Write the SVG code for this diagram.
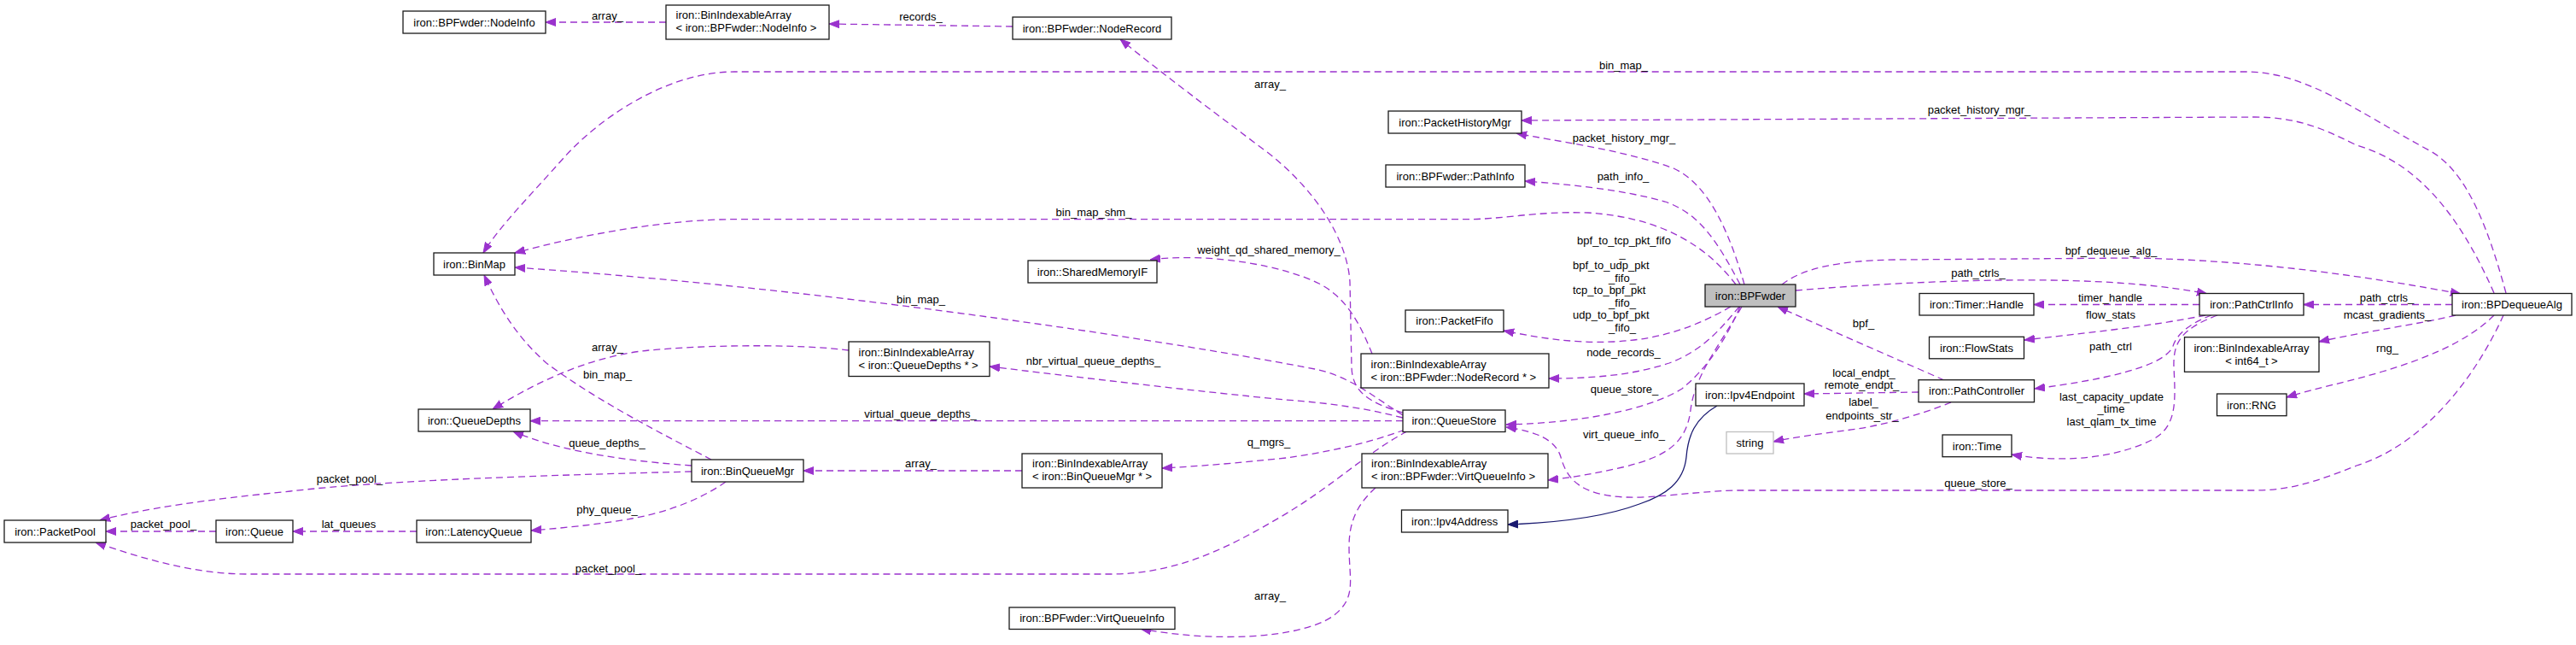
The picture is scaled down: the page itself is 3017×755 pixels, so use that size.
<svg xmlns="http://www.w3.org/2000/svg" width="3017" height="755" viewBox="0 0 3017 755">
<style>
.n rect{fill:#fff;stroke:#1a1a1a;stroke-width:1.3}
.n text,.lb text{font-family:"Liberation Sans",Arial,Helvetica,sans-serif;font-size:13px;fill:#000}
.n text{text-anchor:middle}
.n text.l{text-anchor:start}
.e path{fill:none;stroke:#9a32cd;stroke-width:1.3;stroke-dasharray:8,5}
.e path.b{stroke:#191970;stroke-dasharray:none}
.lb text{text-anchor:middle}
.lb text.s{text-anchor:start}
</style>
<defs>
<marker id="ap" viewBox="0 0 12 10" refX="12" refY="5" markerWidth="12" markerHeight="10" markerUnits="userSpaceOnUse" orient="auto"><path d="M0,0.5 L12,5 L0,9.5z" fill="#9a32cd" stroke="#9a32cd" stroke-width="1"/></marker>
<marker id="ab" viewBox="0 0 12 10" refX="12" refY="5" markerWidth="12" markerHeight="10" markerUnits="userSpaceOnUse" orient="auto"><path d="M0,0.5 L12,5 L0,9.5z" fill="#191970" stroke="#191970" stroke-width="1"/></marker>
</defs>
<rect width="3017" height="755" fill="#fff"/>
<g id="connectors" class="e">
<path marker-end="url(#ap)" d="M780,26 L639,26"/>
<path marker-end="url(#ap)" d="M1186,31 L971,28"/>
<path marker-end="url(#ap)" d="M1643,483 C1605,472 1584,460 1583,430 L1581,330 C1578,280 1540,220 1480,175 C1420,130 1360,85 1312,46"/>
<path marker-end="url(#ap)" d="M1607,414 C1595,385 1580,350 1545,332 C1505,312 1420,295 1347,304"/>
<path marker-end="url(#ap)" d="M2935,343 C2915,270 2890,200 2845,176 C2760,130 2700,84 2630,84 L860,84 C780,84 700,140 660,185 C620,230 585,265 566,296"/>
<path marker-end="url(#ap)" d="M2921,343 C2880,250 2830,190 2760,170 C2720,150 2690,137 2640,137 L1782,141"/>
<path marker-end="url(#ap)" d="M2043,333 C2025,270 2000,215 1960,197 C1900,175 1820,165 1776,156"/>
<path marker-end="url(#ap)" d="M2038,333 C2010,280 1990,250 1950,236 C1900,222 1840,216 1786,212"/>
<path marker-end="url(#ap)" d="M2033,333 C2000,290 1950,255 1860,249 C1800,247 1760,256.7 1718,256.7 L860,256.7 C780,256.7 680,275 603,296"/>
<path marker-end="url(#ap)" d="M2087,333 C2110,315 2150,305 2220,304 L2500,302 C2650,305 2780,325 2882,344"/>
<path marker-end="url(#ap)" d="M2103,340 C2200,332 2300,327 2400,328 C2480,329 2540,335 2585,344"/>
<path marker-end="url(#ap)" d="M2576,356.5 L2382,356.5"/>
<path marker-end="url(#ap)" d="M2872,356.5 L2698,356.5"/>
<path marker-end="url(#ap)" d="M2583,369 C2520,382 2440,390 2371,398"/>
<path marker-end="url(#ap)" d="M2590,369 C2560,380 2548,395 2545,405 C2535,430 2460,445 2383,455"/>
<path marker-end="url(#ap)" d="M2597,369 C2555,385 2545,400 2546,430 C2548,470 2550,500 2520,515 C2480,535 2420,543 2356,532"/>
<path marker-end="url(#ap)" d="M2876,369 C2830,380 2770,388 2716,400"/>
<path marker-end="url(#ap)" d="M2921,369 C2890,400 2840,420 2790,435 C2750,447 2710,455 2678,465"/>
<path marker-end="url(#ap)" d="M2932,369 C2900,440 2840,520 2760,545 C2710,565 2680,574 2640,574 L2030,574 C1980,576 1940,583 1905,582 C1850,580 1835,560 1828,535 C1822,515 1800,505 1764,500"/>
<path marker-end="url(#ap)" d="M2027,359 C1990,380 1950,397 1890,400 C1840,402 1800,395 1761,387"/>
<path marker-end="url(#ap)" d="M2037,359 C2015,385 1995,410 1955,425 C1910,440 1860,443 1814,443"/>
<path marker-end="url(#ap)" d="M2038,359 C2020,400 2000,430 1970,455 C1930,480 1850,495 1764,497"/>
<path marker-end="url(#ap)" d="M2040,359 C2010,410 1985,440 1980,480 C1975,520 1950,535 1900,547 C1870,554 1840,559 1813,562"/>
<path marker-end="url(#ap)" d="M2277,445 L2082,359"/>
<path marker-end="url(#ap)" d="M2247,459 L2113,461"/>
<path marker-end="url(#ap)" d="M2285,471 C2250,485 2200,500 2160,504 C2130,508 2100,512 2077,517"/>
<path class="b" marker-end="url(#ab)" d="M2011,475 C1985,490 1977,510 1975,535 C1972,565 1950,580 1920,590 C1880,605 1820,612 1766,614"/>
<path marker-end="url(#ap)" d="M1643,486 C1610,465 1580,440 1540,432 C1400,405 1000,340 603,313"/>
<path marker-end="url(#ap)" d="M1643,489 C1600,478 1560,472 1506,468 C1400,458 1250,440 1159,429"/>
<path marker-end="url(#ap)" d="M1643,492.7 L621,492.7"/>
<path marker-end="url(#ap)" d="M1645,503 C1600,520 1550,530 1506,536 C1450,542 1400,546 1361,548"/>
<path marker-end="url(#ap)" d="M1648,505 C1600,530 1560,570 1500,605 C1440,640 1380,672 1300,672 L290,672 C230,672 170,655 112,635"/>
<path marker-end="url(#ap)" d="M1611,571 C1590,590 1580,610 1580,640 C1580,680 1590,700 1560,722 C1520,748 1420,752 1336,736"/>
<path marker-end="url(#ap)" d="M994,410 C950,404 850,402 760,410 C700,416 640,440 577,479"/>
<path marker-end="url(#ap)" d="M833,538 C780,510 700,470 640,425 C600,390 580,350 567,322"/>
<path marker-end="url(#ap)" d="M810,545 C740,540 660,530 601,505"/>
<path marker-end="url(#ap)" d="M810,552 C650,556 450,562 340,575 C240,585 170,595 117,609"/>
<path marker-end="url(#ap)" d="M850,564 C820,585 780,600 740,607 C700,614 660,618 622,621"/>
<path marker-end="url(#ap)" d="M1197,551 L941,551"/>
<path marker-end="url(#ap)" d="M488,622 L343,622"/>
<path marker-end="url(#ap)" d="M253,622 L124,622"/>
</g>
<g id="edge-labels" class="lb">
<text x="711.5" y="23">array_</text>
<text x="1078.5" y="23.5">records_</text>
<text x="1487.5" y="102.5">array_</text>
<text x="1486" y="297">weight_qd_shared_memory_</text>
<text x="1901.5" y="81">bin_map_</text>
<text x="2318" y="133">packet_history_mgr_</text>
<text x="1902" y="165.5">packet_history_mgr_</text>
<text x="1901" y="211">path_info_</text>
<text x="1281" y="252.5">bin_map_shm_</text>
<text x="2472.5" y="298">bpf_dequeue_alg_</text>
<text x="2317" y="323.5">path_ctrls_</text>
<text x="2471.5" y="352.5">timer_handle</text>
<text x="2795.5" y="352.5">path_ctrls_</text>
<text x="2472" y="372.5">flow_stats</text>
<text x="2796" y="372.5">mcast_gradients_</text>
<text x="2472" y="410">path_ctrl</text>
<text x="2796" y="411.5">rng_</text>
<text x="2473" y="468.5">last_capacity_update</text>
<text x="2472.5" y="483">_time</text>
<text x="2473" y="497.5">last_qlam_tx_time</text>
<text x="2317" y="570">queue_store_</text>
<text x="1902" y="286">bpf_to_tcp_pkt_fifo</text>
<text x="1900" y="300.5">_</text>
<text class="s" x="1842" y="315">bpf_to_udp_pkt</text>
<text x="1900" y="329.5">_fifo_</text>
<text class="s" x="1842" y="344">tcp_to_bpf_pkt</text>
<text x="1900" y="358.5">_fifo_</text>
<text class="s" x="1842" y="373">udp_to_bpf_pkt</text>
<text x="1900" y="387.5">_fifo_</text>
<text x="1901.5" y="417">node_records_</text>
<text x="1902.5" y="459.5">queue_store_</text>
<text x="1902" y="513">virt_queue_info_</text>
<text x="2182.5" y="383">bpf_</text>
<text x="2183" y="441">local_endpt_</text>
<text x="2180.5" y="455">remote_endpt_</text>
<text x="2182.5" y="475">label_</text>
<text x="2181" y="490.5">endpoints_str_</text>
<text x="1078.5" y="355">bin_map_</text>
<text x="1280.5" y="427">nbr_virtual_queue_depths_</text>
<text x="1078" y="488.5">virtual_queue_depths_</text>
<text x="1486" y="522">q_mgrs_</text>
<text x="712.5" y="669.5">packet_pool_</text>
<text x="1487.5" y="702">array_</text>
<text x="711.5" y="411">array_</text>
<text x="711.5" y="443">bin_map_</text>
<text x="711" y="522.5">queue_depths_</text>
<text x="409.5" y="565">packet_pool_</text>
<text x="711" y="601">phy_queue_</text>
<text x="1078.5" y="547">array_</text>
<text x="408.5" y="618">lat_queues</text>
<text x="191.5" y="618">packet_pool_</text>
</g>
<g id="n_nodeinfo" class="n"><rect x="472" y="13" width="167" height="26"/><text x="555.5" y="30.6">iron::BPFwder::NodeInfo</text></g>
<g id="n_bia_nodeinfo" class="n"><rect x="780" y="6" width="191" height="40"/><text class="l" x="791.5" y="22">iron::BinIndexableArray</text><text class="l" x="791.5" y="37">&lt; iron::BPFwder::NodeInfo &gt;</text></g>
<g id="n_noderecord" class="n"><rect x="1186" y="20" width="186" height="26"/><text x="1279" y="37.6">iron::BPFwder::NodeRecord</text></g>
<g id="n_packethistorymgr" class="n"><rect x="1626" y="130" width="156" height="26"/><text x="1704" y="147.6">iron::PacketHistoryMgr</text></g>
<g id="n_pathinfo" class="n"><rect x="1623" y="193" width="163" height="26"/><text x="1704.5" y="210.6">iron::BPFwder::PathInfo</text></g>
<g id="n_binmap" class="n"><rect x="508" y="296" width="95" height="26"/><text x="555.5" y="313.6">iron::BinMap</text></g>
<g id="n_sharedmemoryif" class="n"><rect x="1204" y="305" width="151" height="26"/><text x="1279.5" y="322.6">iron::SharedMemoryIF</text></g>
<g id="n_packetfifo" class="n"><rect x="1646" y="363" width="115" height="25.5"/><text x="1703.5" y="380.4">iron::PacketFifo</text></g>
<g id="n_bpfwder" class="n"><rect x="1997" y="333" width="106" height="26" style="fill:#bfbfbf"/><text x="2050" y="350.6">iron::BPFwder</text></g>
<g id="n_bia_noderecord" class="n"><rect x="1594" y="414" width="220" height="40"/><text class="l" x="1605.5" y="430.5">iron::BinIndexableArray</text><text class="l" x="1605.5" y="445.5">&lt; iron::BPFwder::NodeRecord * &gt;</text></g>
<g id="n_bia_queuedepths" class="n"><rect x="994" y="400" width="165" height="40.5"/><text class="l" x="1005.5" y="417">iron::BinIndexableArray</text><text class="l" x="1005.5" y="432">&lt; iron::QueueDepths * &gt;</text></g>
<g id="n_queuedepths" class="n"><rect x="490" y="479" width="131" height="26"/><text x="555.5" y="496.6">iron::QueueDepths</text></g>
<g id="n_queuestore" class="n"><rect x="1643" y="480" width="120" height="25.5"/><text x="1703" y="497.4">iron::QueueStore</text></g>
<g id="n_ipv4endpoint" class="n"><rect x="1986" y="449" width="127" height="26"/><text x="2049.5" y="466.6">iron::Ipv4Endpoint</text></g>
<g id="n_string" class="n"><rect x="2022" y="505.5" width="55" height="25.5" style="stroke:#bfbfbf"/><text x="2049.5" y="522.8">string</text></g>
<g id="n_binqueuemgr" class="n"><rect x="810" y="538" width="131" height="26"/><text x="875.5" y="555.6">iron::BinQueueMgr</text></g>
<g id="n_bia_binqueuemgr" class="n"><rect x="1197" y="531" width="164" height="40"/><text class="l" x="1209" y="547">iron::BinIndexableArray</text><text class="l" x="1209" y="562">&lt; iron::BinQueueMgr * &gt;</text></g>
<g id="n_bia_virtqueueinfo" class="n"><rect x="1595" y="531" width="218" height="40"/><text class="l" x="1606" y="547">iron::BinIndexableArray</text><text class="l" x="1606" y="562">&lt; iron::BPFwder::VirtQueueInfo &gt;</text></g>
<g id="n_packetpool" class="n"><rect x="5" y="609" width="119" height="26"/><text x="64.5" y="626.6">iron::PacketPool</text></g>
<g id="n_queue" class="n"><rect x="253" y="609" width="90" height="26"/><text x="298" y="626.6">iron::Queue</text></g>
<g id="n_latencyqueue" class="n"><rect x="488" y="609" width="134" height="26"/><text x="555" y="626.6">iron::LatencyQueue</text></g>
<g id="n_ipv4address" class="n"><rect x="1641.5" y="597" width="124.5" height="26"/><text x="1703.7" y="614.6">iron::Ipv4Address</text></g>
<g id="n_virtqueueinfo" class="n"><rect x="1182" y="711" width="194" height="25.5"/><text x="1279" y="728.4">iron::BPFwder::VirtQueueInfo</text></g>
<g id="n_timerhandle" class="n"><rect x="2248" y="343.5" width="134" height="25.5"/><text x="2315" y="361">iron::Timer::Handle</text></g>
<g id="n_pathctrlinfo" class="n"><rect x="2576" y="343.5" width="122" height="25.5"/><text x="2637" y="361">iron::PathCtrlInfo</text></g>
<g id="n_flowstats" class="n"><rect x="2259.5" y="394.3" width="111" height="25.5"/><text x="2315" y="411.7">iron::FlowStats</text></g>
<g id="n_pathcontroller" class="n"><rect x="2247" y="444.7" width="135.5" height="26"/><text x="2315" y="462.3">iron::PathController</text></g>
<g id="n_time" class="n"><rect x="2275" y="509" width="81" height="25.7"/><text x="2315.5" y="526.5">iron::Time</text></g>
<g id="n_bia_int64" class="n"><rect x="2558.5" y="394.7" width="157.5" height="40.6"/><text x="2637" y="411.5">iron::BinIndexableArray</text><text x="2637" y="426.5">&lt; int64_t &gt;</text></g>
<g id="n_rng" class="n"><rect x="2596.5" y="461" width="81.5" height="25.7"/><text x="2637" y="478.5">iron::RNG</text></g>
<g id="n_bpdequeuealg" class="n"><rect x="2872" y="343.5" width="140" height="25.5"/><text x="2942" y="361">iron::BPDequeueAlg</text></g>
</svg>
